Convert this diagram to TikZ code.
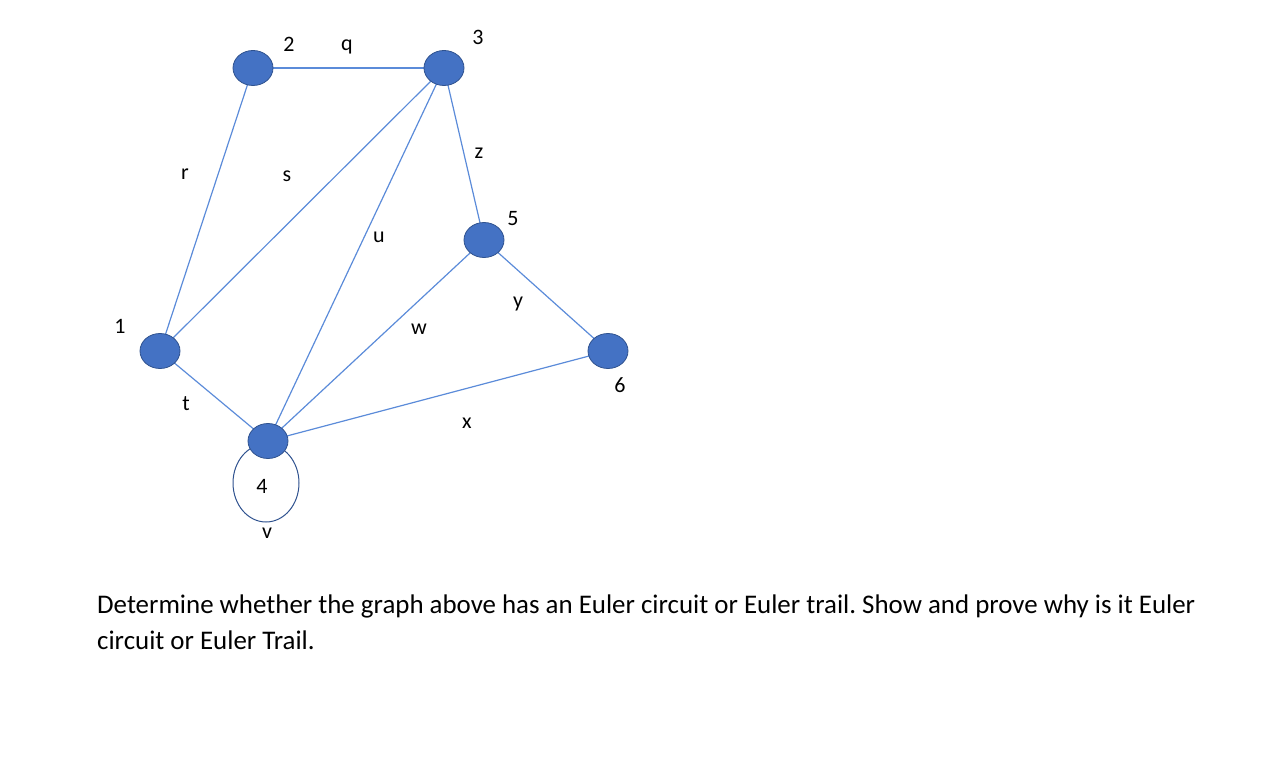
\documentclass[tikz,border=0pt]{standalone}
\usepackage{fontspec}
\setmainfont{Carlito}
\usetikzlibrary{shapes.geometric}
\begin{document}
\frenchspacing
\begin{tikzpicture}[x=1pt,y=-1pt,
  vert/.style={ellipse,draw=vborder,fill=vfill,line width=0.8pt,minimum width=40pt,minimum height=35pt,inner sep=0pt},
  edge/.style={draw=ecol,line width=1.2pt},
  lab/.style={font=\fontsize{22}{24}\selectfont,text=black,inner sep=0pt}]
\definecolor{vfill}{HTML}{4472C4}
\definecolor{vborder}{HTML}{2F528F}
\definecolor{ecol}{HTML}{5B8BD9}
\useasboundingbox (0,0) rectangle (1285,767);
\draw[vborder,line width=1pt] (266,483) ellipse (33 and 39);
\coordinate (p1) at (160,351);
\coordinate (p2) at (253,68);
\coordinate (p3) at (444,68);
\coordinate (p4) at (268,441);
\coordinate (p5) at (484,240);
\coordinate (p6) at (608,351);
\draw[edge] (p2) -- (p3);
\draw[edge] (p2) -- (p1);
\draw[edge] (p1) -- (p3);
\draw[edge] (p3) -- (p4);
\draw[edge] (p3) -- (p5);
\draw[edge] (p5) -- (p6);
\draw[edge] (p5) -- (p4);
\draw[edge] (p4) -- (p6);
\draw[edge] (p1) -- (p4);
\node[vert] (n1) at (p1) {};
\node[vert] (n2) at (p2) {};
\node[vert] (n3) at (p3) {};
\node[vert] (n4) at (p4) {};
\node[vert] (n5) at (p5) {};
\node[vert] (n6) at (p6) {};
\node[lab] (l2) at (289,44) {2};
\node[lab] (lq) at (347,47) {q};
\node[lab] (l3) at (478,37) {3};
\node[lab] (lr) at (185,174) {r};
\node[lab] (ls) at (287,176) {s};
\node[lab] (lz) at (479,153) {z};
\node[lab] (l5) at (513,219) {5};
\node[lab] (lu) at (379,237) {u};
\node[lab] (ly) at (518,304) {y};
\node[lab] (lw) at (419,329) {w};
\node[lab] (l1) at (120,326) {1};
\node[lab] (l6) at (620,385) {6};
\node[lab] (lt) at (186,404) {t};
\node[lab] (lx) at (467,423) {x};
\node[lab] (l4) at (262,486) {4};
\node[lab] (lv) at (267,533) {v};
\node[anchor=base west,inner sep=0pt,font=\fontsize{26.9}{36}\selectfont,align=left] (txt) at (97,649) {Determine whether the graph above has an Euler circuit or Euler trail. Show and prove why is it Euler\\circuit or Euler Trail.};
\end{tikzpicture}
\end{document}
